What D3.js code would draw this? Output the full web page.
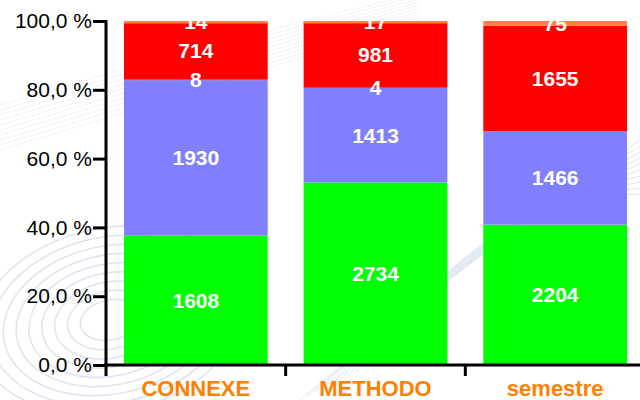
<html>
<head>
    <title>Stacked</title>
    <script src='https://d3js.org/d3.v7.min.js'></script>
    <style>
        body { margin: 0; background: white; }
        text { font-family: 'Liberation Sans', Arial, sans-serif; }
    </style>
</head>
<body>
    <svg id="chart"></svg>
    <script>
        var categories = ["CONNEXE", "METHODO", "semestre"];
        var s1 = [1608, 2734, 2204];
        var s2 = [1930, 1413, 1466];
        var s3 = [8, 4, 0];
        var s4 = [714, 981, 1655];
        var s5 = [14, 17, 75];
        var colors = ["#00ff00", "#8080ff", "#993366", "#ff0000", "#ff8040"];
        var yTicks = [0, 20, 40, 60, 80, 100];

        var W = 640, H = 400;
        var svg = d3.select("#chart").attr("width", W).attr("height", H);

        // faint background swirls
        var bg = svg.append("g").attr("fill", "none").attr("stroke", "#dde4f0");
        for (var i = 0; i < 9; i++) {
            bg.append("ellipse")
                .attr("cx", 110).attr("cy", 320)
                .attr("rx", 30 + i * 13).attr("ry", 20 + i * 9)
                .attr("transform", "rotate(-12,110,320)")
                .attr("stroke-width", 1.5);
        }
        for (var j = 0; j < 10; j++) {
            bg.append("path")
                .attr("d", "M" + (300 + j * 8) + "," + (400 - j * 4) + " Q 480," + (250 - j * 6) + " 640," + (140 + j * 6))
                .attr("stroke-width", 1);
            bg.append("path")
                .attr("d", "M0," + (150 - j * 5) + " Q 200," + (90 - j * 5) + " 420," + (20 - j * 3))
                .attr("stroke-width", 0.8).attr("opacity", 0.6);
        }

        var x = d3.scaleBand().domain(categories).range([106, 645]).paddingInner(0.2).paddingOuter(0.1);
        var y = d3.scaleLinear().domain([0, 100]).range([365, 21]);

        var data = categories.map(function (c, i) {
            var vals = [s1[i], s2[i], s3[i], s4[i], s5[i]];
            var total = d3.sum(vals);
            var acc = 0;
            return vals.map(function (v, k) {
                var seg = { cat: c, v: v, k: k, y0: acc / total * 100, y1: (acc + v) / total * 100 };
                acc += v;
                return seg;
            });
        });
        var segs = [].concat.apply([], data);

        svg.append("g").selectAll("rect")
            .data(segs)
            .enter()
            .append("rect")
            .attr("x", function (d) { return x(d.cat); })
            .attr("width", x.bandwidth())
            .attr("y", function (d) { return y(d.y1); })
            .attr("height", function (d) { return Math.max(y(d.y0) - y(d.y1), d.k == 4 ? 2.5 : 0); })
            .attr("fill", function (d) { return colors[d.k]; });

        svg.append("clipPath").attr("id", "plotclip")
            .append("rect").attr("x", 106).attr("y", y(100) - 1).attr("width", 540).attr("height", 350);

        svg.append("g").attr("clip-path", "url(#plotclip)")
            .selectAll("text")
            .data(segs.filter(function (d) { return d.v > 0; }))
            .enter()
            .append("text")
            .attr("x", function (d) { return x(d.cat) + x.bandwidth() / 2; })
            .attr("y", function (d) { return y((d.y0 + d.y1) / 2); })
            .attr("dy", "0.36em")
            .attr("text-anchor", "middle")
            .attr("fill", "white")
            .attr("font-weight", "bold")
            .attr("font-size", "21px")
            .text(function (d) { return d.v; });

        // y axis
        var yAxis = svg.append("g")
            .attr("transform", "translate(106,0)")
            .call(d3.axisLeft(y).tickValues(yTicks).tickSize(13).tickPadding(1)
                .tickFormat(function (d) { return d.toFixed(1).replace(".", ",") + " %"; }));
        yAxis.select(".domain").attr("stroke", "black").attr("stroke-width", 3)
            .attr("d", "M0," + (y(100) - 1) + "V" + (y(0) + 2));
        yAxis.selectAll(".tick line").attr("stroke", "black").attr("stroke-width", 3);
        yAxis.selectAll(".tick text").attr("font-size", "21px").attr("fill", "black")
            .attr("font-family", "'Liberation Sans', Arial, sans-serif");

        // x axis
        var xAxis = svg.append("g").attr("transform", "translate(0,365)");
        xAxis.append("line").attr("x1", 104).attr("x2", 640).attr("y1", 0).attr("y2", 0)
            .attr("stroke", "black").attr("stroke-width", 3);
        var bounds = categories.map(function (c) { return x(c) - x.step() * x.paddingInner() / 2; });
        xAxis.selectAll(".xt").data(bounds).enter().append("line")
            .attr("x1", function (d) { return d; }).attr("x2", function (d) { return d; })
            .attr("y1", 0).attr("y2", 11)
            .attr("stroke", "black").attr("stroke-width", 3);
        xAxis.selectAll(".xl").data(categories).enter().append("text")
            .attr("x", function (d) { return x(d) + x.bandwidth() / 2; })
            .attr("y", 31)
            .attr("text-anchor", "middle")
            .attr("fill", "#ff8000")
            .attr("font-weight", "bold")
            .attr("font-size", "22px")
            .text(function (d) { return d; });
    </script>
</body>
</html>
